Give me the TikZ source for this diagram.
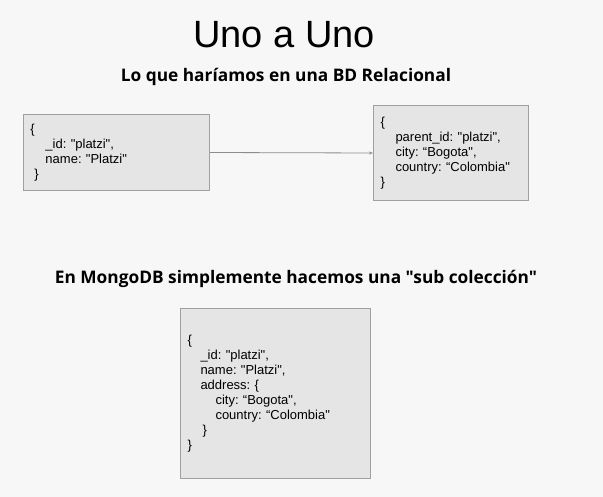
\documentclass[tikz,border=0pt]{standalone}
\usepackage{fontspec}
\setmainfont{Liberation Sans}[Ligatures = TeXOff]
\newfontfamily\headfont{Open Sans}[Ligatures = TeXOff]
\usetikzlibrary{positioning}
\usetikzlibrary{arrows.meta}

\definecolor{pagebg}{HTML}{F7F7F7}
\definecolor{boxfill}{HTML}{E6E5E6}
\definecolor{boxline}{HTML}{A0A0A0}
\definecolor{linkgray}{HTML}{8C8C8C}

\tikzset{
  docbox/.style = {draw = boxline, fill = boxfill, line width = 1pt,
    anchor = north west, align = left, inner xsep = 7pt, inner ysep = 0pt,
    font = \fontsize{13}{15}\selectfont\frenchspacing},
  heading/.style = {anchor = base, font = \headfont\bfseries\fontsize{17.3}{20}\selectfont},
  link/.style = {draw = linkgray, line width = 0.8pt, -{Stealth[length = 4pt, width = 3pt]}},
}

\begin{document}
\begin{tikzpicture}[x = 1pt, y = -1pt]
  \fill [pagebg] (0, 0) rectangle (603, 497);

  \node [anchor = base, font = \fontsize{38}{40}\selectfont] (title) at (284, 48) {Uno a Uno};
  \node [heading] (relational) at (286, 82) {Lo que haríamos en una BD Relacional};

  % documentos relacionados
  \node [docbox, text width = 172pt, minimum height = 76pt] (platzi) at (23, 114)
    {\{\\ \hspace*{15pt}\_id: "platzi",\\ \hspace*{15pt}name: "Platzi"\\ \hspace*{4pt}\}};
  \node [docbox, text width = 141pt, minimum height = 95pt] (address) at (373, 105)
    {\{\\ \hspace*{15pt}parent\_id: "platzi",\\ \hspace*{15pt}city: “Bogota",\\ \hspace*{15pt}country: “Colombia"\\ \}};
  \draw [link] (platzi.east) -- (address.west);

  \node [heading] (mongo) at (296, 284) {En MongoDB simplemente hacemos una "sub colección"};

  % documento embebido
  \node [docbox, text width = 176pt, minimum height = 170pt] (embedded) at (180, 308)
    {\{\\ \hspace*{13pt}\_id: "platzi",\\ \hspace*{13pt}name: "Platzi",\\ \hspace*{13pt}address: \{\\
     \hspace*{28pt}city: “Bogota",\\ \hspace*{28pt}country: “Colombia"\\ \hspace*{15pt}\}\\ \}};
\end{tikzpicture}
\end{document}
